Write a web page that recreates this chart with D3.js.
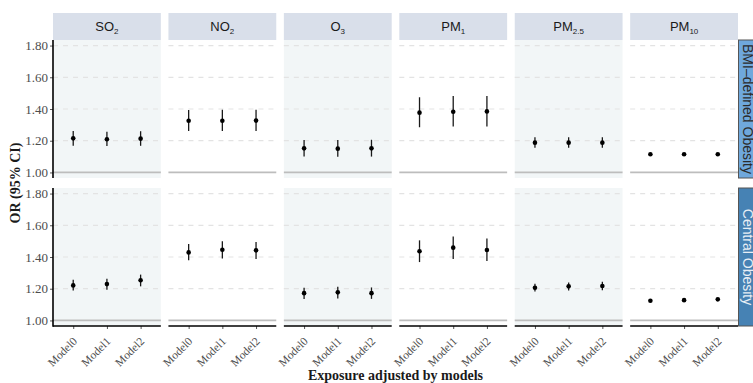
<!DOCTYPE html>
<html><head><meta charset="utf-8">
<script src="https://cdn.jsdelivr.net/npm/d3@7"></script>
<style>body{margin:0;background:#fff}svg{display:block}</style>
</head><body>
<script>
const pollutants = [
  {base:"SO", sub:"2"}, {base:"NO", sub:"2"}, {base:"O", sub:"3"},
  {base:"PM", sub:"1"}, {base:"PM", sub:"2.5"}, {base:"PM", sub:"10"}
];
const outcomes = ["BMI\u2013defined Obesity", "Central Obesity"];
const models = ["Model0", "Model1", "Model2"];
const yTicks = [1.00, 1.20, 1.40, 1.60, 1.80];
// OR, lower, upper — per outcome, per pollutant, per model
const orBMI = [
  [[1.215,1.168,1.261],[1.209,1.166,1.257],[1.213,1.168,1.260]],
  [[1.326,1.261,1.394],[1.326,1.261,1.396],[1.327,1.261,1.396]],
  [[1.152,1.100,1.205],[1.150,1.099,1.205],[1.152,1.100,1.206]],
  [[1.377,1.285,1.474],[1.383,1.289,1.482],[1.385,1.289,1.482]],
  [[1.188,1.156,1.222],[1.188,1.156,1.222],[1.188,1.156,1.222]],
  [[1.115,1.109,1.121],[1.115,1.109,1.121],[1.115,1.109,1.121]]
];
const orCentral = [
  [[1.221,1.189,1.257],[1.229,1.194,1.263],[1.253,1.215,1.289]],
  [[1.429,1.379,1.482],[1.446,1.391,1.499],[1.442,1.387,1.495]],
  [[1.172,1.135,1.206],[1.177,1.139,1.212],[1.172,1.136,1.208]],
  [[1.436,1.368,1.505],[1.459,1.387,1.530],[1.444,1.374,1.516]],
  [[1.206,1.183,1.232],[1.215,1.189,1.240],[1.217,1.191,1.244]],
  [[1.124,1.119,1.129],[1.128,1.123,1.133],[1.133,1.128,1.138]]
];
const allData = [orBMI, orCentral];

const W = 753, H = 383;
const svg = d3.select("body").append("svg").attr("width", W).attr("height", H);
const left0 = 53, right5 = 738, gap = 7.6;
const pw = (right5 - left0 - 5*gap) / 6;
const rows = [{top:40, bot:178}, {top:188, bot:326}];
const stripTop = 13, stripBot = 40;
const shaded = [true, false, true, false, true, false];
const serif = "'Liberation Serif','Times New Roman',serif";
const sans = "'Liberation Sans',Arial,sans-serif";

pollutants.forEach((p, i) => {
  const x0 = left0 + i*(pw+gap);
  const x = d3.scalePoint().domain(models).range([x0, x0+pw]).padding(0.6);
  svg.append("rect").attr("x", x0).attr("y", stripTop).attr("width", pw).attr("height", stripBot-stripTop).attr("fill", "#d9dfea");
  const t = svg.append("text").attr("x", x0+pw/2).attr("y", 31).attr("text-anchor","middle")
    .attr("font-family", sans).attr("font-size", 13).attr("fill", "#1a1a1a");
  t.append("tspan").text(p.base);
  t.append("tspan").attr("font-size", 8).attr("dy", 3).text(p.sub);

  rows.forEach((r, ri) => {
    const y = d3.scaleLinear().domain([0.965, 1.835]).range([r.bot, r.top]);
    const g = svg.append("g");
    g.append("rect").attr("x", x0).attr("y", r.top).attr("width", pw).attr("height", r.bot-r.top)
      .attr("fill", shaded[i] ? "#f2f6f7" : "#ffffff");
    yTicks.filter(v => v > 1).forEach(v => {
      g.append("line").attr("x1", x0).attr("x2", x0+pw).attr("y1", y(v)).attr("y2", y(v))
        .attr("stroke", "#e3e3e3").attr("stroke-width", 1.2).attr("stroke-dasharray", "5,5");
    });
    g.append("line").attr("x1", x0).attr("x2", x0+pw).attr("y1", y(1)).attr("y2", y(1))
      .attr("stroke", "#bdbdbd").attr("stroke-width", 1.8);
    const d = allData[ri][i];
    models.forEach((m, mi) => {
      const [or, lo, hi] = d[mi];
      g.append("line").attr("x1", x(m)).attr("x2", x(m)).attr("y1", y(lo)).attr("y2", y(hi))
        .attr("stroke", "#1a1a1a").attr("stroke-width", 1.3);
      g.append("circle").attr("cx", x(m)).attr("cy", y(or)).attr("r", 2.3).attr("fill", "#000");
    });
    if (i === 0) {
      const ax = svg.append("g").attr("transform", `translate(${x0},0)`)
        .call(d3.axisLeft(y).tickValues(yTicks).tickFormat(d3.format(".2f")).tickSize(3).tickPadding(2));
      ax.select(".domain").remove();
      ax.selectAll(".tick line").attr("stroke", "#555");
      ax.selectAll("text").attr("font-family", serif).attr("font-size", 13).attr("fill", "#4d4d4d");
      svg.append("line").attr("x1", x0).attr("x2", x0).attr("y1", r.top).attr("y2", r.bot+(ri===1?0.8:0))
        .attr("stroke", "#000").attr("stroke-width", 1.6);
    }
    if (ri === 1) {
      const ax = svg.append("g").attr("transform", `translate(0,${r.bot})`)
        .call(d3.axisBottom(x).tickSize(3).tickPadding(3));
      ax.select(".domain").remove();
      ax.selectAll(".tick line").attr("stroke", "#555");
      ax.selectAll("text").attr("font-family", serif).attr("font-size", 11.5).attr("fill", "#4d4d4d")
        .attr("text-anchor", "end").attr("y", 0).attr("dy", 0)
        .attr("transform", "translate(4,16) rotate(-45)");
      svg.append("line").attr("x1", x0).attr("x2", x0+pw).attr("y1", r.bot).attr("y2", r.bot)
        .attr("stroke", "#000").attr("stroke-width", 1.6);
    }
  });
});

// right strips
const stripFill = ["#6fa8dc", "#4682b4"];
const stripText = ["#2b2b2b", "#e8eef5"];
rows.forEach((r, ri) => {
  svg.append("rect").attr("x", right5+0.5).attr("y", r.top).attr("width", 22).attr("height", r.bot-r.top)
    .attr("fill", stripFill[ri]).attr("stroke", "#555").attr("stroke-width", 1);
  const cy = (r.top + r.bot)/2;
  svg.append("text").attr("transform", `translate(${right5+5},${cy}) rotate(90)`)
    .attr("text-anchor", "middle").attr("font-family", sans).attr("font-size", 14)
    .attr("fill", stripText[ri]).text(outcomes[ri]);
});

// axis titles
svg.append("text").attr("transform", `translate(20,183) rotate(-90)`).attr("text-anchor","middle")
  .attr("font-family", serif).attr("font-weight", "bold").attr("font-size", 14).attr("fill", "#1a1a1a")
  .text("OR (95% CI)");
svg.append("text").attr("x", (left0+right5)/2).attr("y", 380).attr("text-anchor","middle")
  .attr("font-family", serif).attr("font-weight", "bold").attr("font-size", 14).attr("fill", "#1a1a1a")
  .text("Exposure adjusted by models");
</script>
</body></html>
